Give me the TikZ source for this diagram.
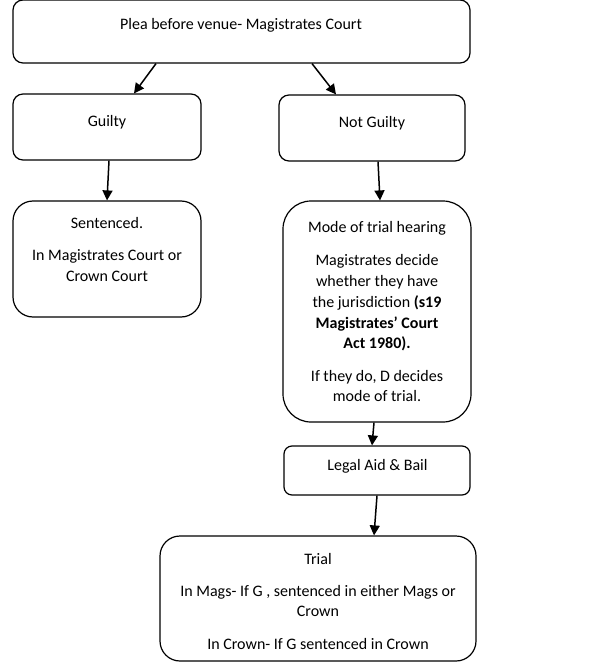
\documentclass[tikz,border=0pt]{standalone}
\usepackage{fontspec}
\setmainfont{Carlito}
\usetikzlibrary{arrows.meta}
\begin{document}
\begin{tikzpicture}[x=1pt,y=-1pt,
  box/.style={draw=black, line width=1.2pt, rectangle, inner sep=0pt},
  lbl/.style={anchor=base, inner sep=0pt, font=\fontsize{16}{19}\selectfont},
  arr/.style={draw=black, line width=1.5pt, -{Triangle[length=10pt,width=10pt]}}]
\useasboundingbox (0,0) rectangle (599,666);
% boxes
\node[box, rounded corners=10pt, minimum width=457pt, minimum height=63pt] (top) at (241.5,31.5) {};
\node[box, rounded corners=10pt, minimum width=188pt, minimum height=66pt] (guilty) at (107,127) {};
\node[box, rounded corners=10pt, minimum width=186pt, minimum height=66pt] (notg) at (372,128) {};
\node[box, rounded corners=20pt, minimum width=188pt, minimum height=116pt] (sent) at (107,259) {};
\node[box, rounded corners=28pt, minimum width=188pt, minimum height=221pt] (mode) at (377,311.5) {};
\node[box, rounded corners=8pt, minimum width=186pt, minimum height=49pt] (legal) at (377,470.5) {};
\node[box, rounded corners=20pt, minimum width=316pt, minimum height=125pt] (trial) at (318,598.5) {};
% texts
\node[lbl] (t1) at (241,30) {Plea before venue- Magistrates Court};
\node[lbl] (t2) at (107,127) {Guilty};
\node[lbl] (t3) at (372,128) {Not Guilty};
\node[lbl] (t4) at (107,228) {Sentenced.};
\node[lbl] (t5) at (107,260) {In Magistrates Court or};
\node[lbl] (t6) at (107,281) {Crown Court};
\node[lbl] (t7) at (377,232) {Mode of trial hearing};
\node[lbl] (t8) at (377,265) {Magistrates decide};
\node[lbl] (t9) at (377,286) {whether they have};
\node[lbl] (t10) at (377,307) {the jurisdiction \textbf{(s19}};
\node[lbl] (t11) at (377,328) {\textbf{Magistrates’ Court}};
\node[lbl] (t12) at (377,348) {\textbf{Act 1980).}};
\node[lbl] (t13) at (377,381) {If they do, D decides};
\node[lbl] (t14) at (377,401) {mode of trial.};
\node[lbl] (t15) at (377.5,470) {Legal Aid \& Bail};
\node[lbl] (t16) at (318,564) {Trial};
\node[lbl] (t17) at (318,596) {In Mags- If G , sentenced in either Mags or};
\node[lbl] (t18) at (318,616) {Crown};
\node[lbl] (t19) at (318,649) {In Crown- If G sentenced in Crown};
% arrows
\draw[arr] ([xshift=-85.5pt]top.south) -- ([xshift=27pt]guilty.north);
\draw[arr] ([xshift=70.5pt]top.south) -- ([xshift=-36pt]notg.north);
\draw[arr] ([xshift=2pt]guilty.south) -- (sent.north);
\draw[arr] ([xshift=6pt]notg.south) -- ([xshift=3pt]mode.north);
\draw[arr] ([xshift=-3pt]mode.south) -- ([xshift=-5pt]legal.north);
\draw[arr] (legal.south) -- ([xshift=56pt]trial.north);
\end{tikzpicture}
\end{document}
